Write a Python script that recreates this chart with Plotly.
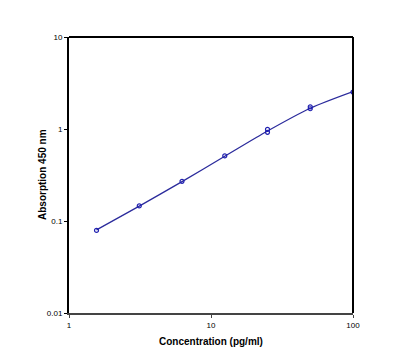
import plotly.graph_objects as go

conc = [1.5625, 3.125, 6.25, 12.5, 25, 25, 50, 50, 100]
absorb = [0.079, 0.146, 0.27, 0.51, 0.92, 0.99, 1.66, 1.74, 2.52]

curve_x = [1.5625, 3.125, 6.25, 12.5, 25, 50, 100]
curve_y = [0.080, 0.145, 0.268, 0.505, 0.95, 1.68, 2.55]

x_ticks = [1, 10, 100]
x_tick_labels = ["1", "10", "100"]
y_ticks = [0.01, 0.1, 1, 10]
y_tick_labels = ["0.01", "0.1", "1", "10"]

fig = go.Figure()
fig.add_trace(go.Scatter(x=curve_x, y=curve_y, mode="lines",
                         line=dict(color="#2b2b9c", width=1.3, shape="spline", smoothing=0.8),
                         hoverinfo="skip", showlegend=False))
fig.add_trace(go.Scatter(x=conc, y=absorb, mode="markers",
                         marker=dict(symbol="circle-open", size=4, color="#2020b0",
                                     line=dict(width=1.2, color="#2020b0")),
                         showlegend=False))

fig.update_layout(
    width=400, height=361,
    margin=dict(l=69, r=47, t=37, b=48),
    paper_bgcolor="white", plot_bgcolor="white",
    font=dict(family="Liberation Sans, Arial, sans-serif", color="black", size=8),
    xaxis=dict(type="log", range=[0, 2], tickvals=x_ticks, ticktext=x_tick_labels,
               showgrid=False, zeroline=False, showline=True, linecolor="#444", linewidth=2,
               ticks="outside", ticklen=3, tickwidth=1, tickcolor="#444",
               tickfont=dict(size=8)),
    yaxis=dict(type="log", range=[-2, 1], tickvals=y_ticks, ticktext=y_tick_labels,
               showgrid=False, zeroline=False, showline=True, linecolor="black", linewidth=2,
               ticks="outside", ticklen=3, tickwidth=1, tickcolor="black",
               tickfont=dict(size=8)),
)
fig.add_annotation(text="<b>Concentration (pg/ml)</b>", xref="paper", yref="paper",
                   x=0.5, y=0, yshift=-28, xanchor="center", yanchor="middle",
                   showarrow=False, font=dict(size=10))
fig.add_annotation(text="<b>Absorption 450 nm</b>", xref="paper", yref="paper",
                   x=0, y=0.5, xshift=-27, xanchor="center", yanchor="middle",
                   textangle=-90, showarrow=False, font=dict(size=10))
fig.add_shape(type="line", xref="paper", yref="paper", x0=0, x1=1, y0=1, y1=1,
              line=dict(color="black", width=2))
fig.add_shape(type="line", xref="paper", yref="paper", x0=1, x1=1, y0=0, y1=1,
              line=dict(color="black", width=2))

fig.write_html("out.html")
